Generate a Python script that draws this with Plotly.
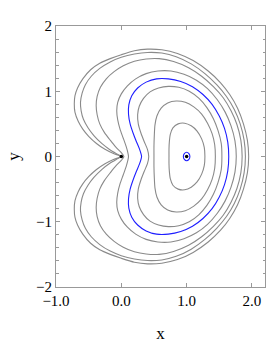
import plotly.graph_objects as go

# Upper halves of each closed level curve (from the right crossing of y=0, counter-clockwise to the left crossing)
c1_x = [1.95, 1.93, 1.87, 1.78, 1.66, 1.52, 1.33, 1.10, 0.86, 0.62, 0.40, 0.20, 0.00, -0.17, -0.33, -0.47, -0.59, -0.67, -0.71, -0.72, -0.71, -0.66, -0.59, -0.50, -0.38, -0.25, -0.12, 0.00]
c1_y = [0.00, 0.25, 0.50, 0.74, 0.95, 1.13, 1.31, 1.47, 1.58, 1.635, 1.645, 1.62, 1.56, 1.50, 1.43, 1.33, 1.19, 1.05, 0.93, 0.81, 0.68, 0.54, 0.42, 0.31, 0.20, 0.11, 0.045, 0.00]

c2_x = [1.90, 1.88, 1.82, 1.73, 1.61, 1.46, 1.28, 1.07, 0.84, 0.62, 0.40, 0.20, 0.00, -0.17, -0.33, -0.46, -0.55, -0.60, -0.625, -0.615, -0.58, -0.51, -0.42, -0.30, -0.17, -0.06, 0.00]
c2_y = [0.00, 0.25, 0.50, 0.72, 0.92, 1.10, 1.27, 1.42, 1.53, 1.585, 1.595, 1.57, 1.52, 1.45, 1.35, 1.23, 1.10, 0.97, 0.83, 0.70, 0.57, 0.44, 0.32, 0.20, 0.10, 0.035, 0.00]

c3_x = [1.85, 1.83, 1.77, 1.68, 1.56, 1.41, 1.23, 1.03, 0.80, 0.58, 0.38, 0.20, 0.03, -0.11, -0.23, -0.32, -0.37, -0.385, -0.37, -0.33, -0.26, -0.17, -0.08, 0.00, 0.04]
c3_y = [0.00, 0.25, 0.49, 0.70, 0.90, 1.07, 1.23, 1.36, 1.455, 1.50, 1.495, 1.46, 1.39, 1.30, 1.19, 1.06, 0.92, 0.78, 0.64, 0.50, 0.37, 0.25, 0.14, 0.06, 0.00]

c4_x = [1.76, 1.74, 1.68, 1.59, 1.47, 1.32, 1.15, 0.96, 0.76, 0.56, 0.38, 0.22, 0.09, 0.00, -0.055, -0.07, -0.055, -0.02, 0.03, 0.075, 0.10, 0.11]
c4_y = [0.00, 0.24, 0.47, 0.68, 0.87, 1.04, 1.17, 1.26, 1.31, 1.31, 1.27, 1.19, 1.08, 0.96, 0.83, 0.70, 0.56, 0.42, 0.28, 0.15, 0.06, 0.00]

blue_x = [1.645, 1.63, 1.58, 1.50, 1.39, 1.25, 1.09, 0.91, 0.72, 0.54, 0.38, 0.25, 0.16, 0.115, 0.11, 0.135, 0.18, 0.23, 0.28, 0.31]
blue_y = [0.00, 0.22, 0.43, 0.62, 0.80, 0.95, 1.07, 1.15, 1.19, 1.19, 1.14, 1.05, 0.93, 0.79, 0.65, 0.50, 0.36, 0.23, 0.11, 0.00]

c5_x = [1.54, 1.53, 1.48, 1.41, 1.31, 1.19, 1.04, 0.88, 0.72, 0.57, 0.44, 0.34, 0.275, 0.25, 0.26, 0.30, 0.35, 0.40, 0.42]
c5_y = [0.00, 0.20, 0.40, 0.58, 0.75, 0.89, 1.00, 1.06, 1.075, 1.05, 0.99, 0.89, 0.77, 0.64, 0.50, 0.36, 0.23, 0.11, 0.00]

c6_x = [1.44, 1.43, 1.39, 1.32, 1.23, 1.11, 0.98, 0.84, 0.71, 0.61, 0.545, 0.515, 0.505, 0.50, 0.50]
c6_y = [0.00, 0.18, 0.35, 0.51, 0.65, 0.76, 0.83, 0.85, 0.82, 0.74, 0.62, 0.48, 0.32, 0.16, 0.00]

c7_x = [1.28, 1.27, 1.23, 1.16, 1.07, 0.97, 0.87, 0.79, 0.75, 0.735, 0.73, 0.73]
c7_y = [0.00, 0.14, 0.27, 0.39, 0.47, 0.51, 0.50, 0.44, 0.34, 0.22, 0.11, 0.00]

core_x = [1.05, 1.035, 1.00, 0.965, 0.95]
core_y = [0.00, 0.045, 0.065, 0.045, 0.00]

points_x = [0.0, 1.0]
points_y = [0.0, 0.0]

x_tick_vals = [-1, 0, 1, 2]
x_tick_text = ["\u22121.0", "0.0", "1.0", "2.0"]
y_tick_vals = [-2, -1, 0, 1, 2]


def closed(xs, ys):
    fx = list(xs) + list(xs[::-1][1:])
    fy = list(ys) + [-v for v in ys[::-1][1:]]
    return fx, fy


GRAY = "#8a8a8a"
BLUE = "#1f1fff"

fig = go.Figure()
curves = [
    (c1_x, c1_y, GRAY),
    (c2_x, c2_y, GRAY),
    (c3_x, c3_y, GRAY),
    (c4_x, c4_y, GRAY),
    (blue_x, blue_y, BLUE),
    (c5_x, c5_y, GRAY),
    (c6_x, c6_y, GRAY),
    (c7_x, c7_y, GRAY),
    (core_x, core_y, BLUE),
]
for xs, ys, col in curves:
    fx, fy = closed(xs, ys)
    fig.add_trace(go.Scatter(x=fx, y=fy, mode="lines",
                             line=dict(color=col, width=1.1, shape="spline", smoothing=0.7),
                             hoverinfo="skip", showlegend=False))

fig.add_trace(go.Scatter(x=points_x, y=points_y, mode="markers",
                         marker=dict(color="black", size=3.5),
                         hoverinfo="skip", showlegend=False))

FAMILY = "Liberation Serif"
font = dict(family=FAMILY, size=15, color="black")

fig.update_layout(
    width=266, height=344,
    margin=dict(l=56, r=1, t=26, b=57),
    paper_bgcolor="white", plot_bgcolor="white",
    font=font,
    xaxis=dict(range=[-1, 2.2], tickvals=x_tick_vals, ticktext=x_tick_text,
               ticks="inside", ticklen=4, tickcolor="#999", tickwidth=1,
               showline=True, linecolor="#999", linewidth=1, mirror="ticks",
               showgrid=False, zeroline=False, tickfont=font, automargin=False,
               title=dict(text="x", font=dict(family=FAMILY, size=17, color="black"), standoff=19)),
    yaxis=dict(range=[-2, 2], tickvals=y_tick_vals,
               ticks="inside", ticklen=4, tickcolor="#999", tickwidth=1,
               minor=dict(dtick=0.2, tick0=0, ticks="inside", ticklen=2.5, tickcolor="#999"),
               showline=True, linecolor="#999", linewidth=1, mirror="ticks",
               showgrid=False, zeroline=False, tickfont=font, automargin=False,
               title=dict(text="y", font=dict(family=FAMILY, size=17, color="black"), standoff=12)),
)

fig.write_html("out.html",
               config={"displayModeBar": False, "staticPlot": True},
               post_script="document.body.style.margin='0';document.body.style.padding='0';document.body.style.overflow='hidden';")
